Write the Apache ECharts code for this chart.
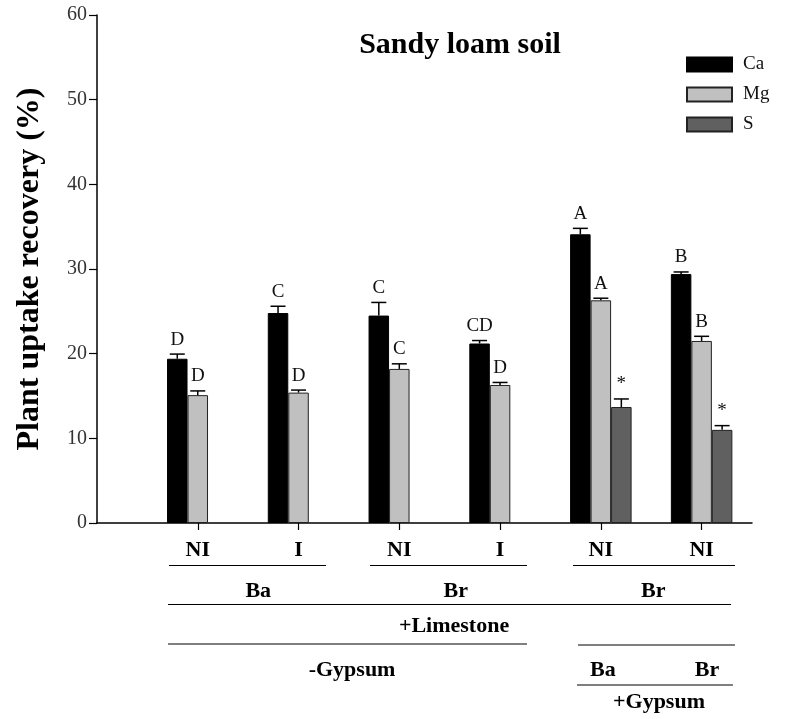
<!DOCTYPE html>
<html><head><meta charset="utf-8">
<script src="https://cdn.jsdelivr.net/npm/echarts@6/dist/echarts.min.js"></script>
<style>html,body{margin:0;padding:0;background:#fff}#c{width:794px;height:719px}</style>
</head><body><div id="c"></div>
<script>
// ---- data ----
const positions = [1, 2, 3, 4, 5, 6];
const tickLabels = ['NI', 'I', 'NI', 'I', 'NI', 'NI'];
const seriesNames = ['Ca', 'Mg', 'S'];
const caValues = [19.4, 24.8, 24.5, 21.2, 34.1, 29.4];
const caErrors = [0.55, 0.8, 1.55, 0.35, 0.7, 0.25];
const caLetters = ['D', 'C', 'C', 'CD', 'A', 'B'];
const mgValues = [15.1, 15.4, 18.2, 16.3, 26.3, 21.5];
const mgErrors = [0.5, 0.3, 0.6, 0.3, 0.25, 0.55];
const mgLetters = ['D', 'D', 'C', 'D', 'A', 'B'];
const sValues = [null, null, null, null, 13.7, 11.0];
const sErrors = [null, null, null, null, 0.95, 0.5];
const sLetters = ['', '', '', '', '*', '*'];
const yTicks = [0, 10, 20, 30, 40, 50, 60];

// hierarchical category annotations (x in axis units)
const tier2Labels = [{text: 'Ba', x: 1.60}, {text: 'Br', x: 3.56}, {text: 'Br', x: 5.52}];
const tier1Lines = [[0.714, 2.272], [2.709, 4.267], [4.724, 6.331]];
const tier2Line = [0.705, 6.292];
const tier3Labels = [{text: '+Limestone', x: 3.543}];
const tier3Lines = [[0.705, 4.267, 644], [4.773, 6.331, 645]];
const tier4Labels = [{text: '-Gypsum', x: 2.531}, {text: 'Ba', x: 5.02}, {text: 'Br', x: 6.053}];
const tier4Line = [4.763, 6.311];
const tier5Labels = [{text: '+Gypsum', x: 5.577}];

// ---- styling ----
const FONT = '"Liberation Serif", "Times New Roman", serif';
const BAR_W = 20.5;
const colors = ['#000000', '#c0c0c0', '#606060'];

const chart = echarts.init(document.getElementById('c'), null, {renderer: 'canvas'});

function pairs(vals) {
  const out = [];
  vals.forEach((v, i) => { if (v != null) out.push([positions[i], v]); });
  return out;
}
function errData(vals, errs) {
  const out = [];
  vals.forEach((v, i) => { if (v != null) out.push([positions[i], v, v + errs[i], i]); });
  return out;
}
const allVals = [caValues, mgValues, sValues];
const allErrs = [caErrors, mgErrors, sErrors];
const allLetters = [caLetters, mgLetters, sLetters];

function makeErr(k) {
  return {
    type: 'custom',
    name: seriesNames[k] + '_err',
    z: 5,
    silent: true,
    data: errData(allVals[k], allErrs[k]),
    renderItem: function (params, api) {
      const x = api.value(0), v = api.value(1), top = api.value(2), idx = api.value(3);
      const b = api.coord([x, v]);
      const c = api.coord([x, top]);
      const cx = b[0] + (k - 1) * BAR_W;
      const st = {stroke: '#000', lineWidth: 1.5};
      return {
        type: 'group',
        children: [
          {type: 'line', shape: {x1: cx, y1: b[1], x2: cx, y2: c[1]}, style: st},
          {type: 'line', shape: {x1: cx - 7.5, y1: c[1], x2: cx + 7.5, y2: c[1]}, style: st},
          {type: 'text', x: cx, y: c[1] - 14.5,
           style: {text: allLetters[k][idx], fill: '#111', font: '19px ' + FONT, align: 'center', verticalAlign: 'middle'}}
        ]
      };
    }
  };
}

const barSeries = seriesNames.map((n, k) => ({
  type: 'bar',
  name: n,
  data: pairs(allVals[k]),
  barWidth: BAR_W,
  barGap: '0%',
  itemStyle: {color: colors[k], borderColor: k === 0 ? '#000' : '#222', borderWidth: 1},
  emphasis: {disabled: true}
}));

chart.setOption({
  animation: false,
  backgroundColor: '#fff',
  title: {
    text: 'Sandy loam soil',
    left: 460, top: 30, textAlign: 'center', padding: 0,
    textStyle: {fontFamily: FONT, fontSize: 30, fontWeight: 'bold', color: '#000'}
  },
  legend: {
    data: seriesNames,
    orient: 'vertical',
    left: 686, top: 55, padding: 0,
    itemWidth: 45, itemHeight: 14, itemGap: 11,
    icon: 'rect',
    textStyle: {fontFamily: FONT, fontSize: 19, color: '#111', lineHeight: 14, padding: [0, 0, 0, 6]}
  },
  grid: {left: 97, top: 15, width: 655, height: 508, containLabel: false},
  xAxis: {
    type: 'value', min: 0, max: 6.5,
    splitLine: {show: false},
    axisLine: {show: true, lineStyle: {color: '#000', width: 1.5}},
    axisTick: {show: true, customValues: positions, length: 7, lineStyle: {color: '#000', width: 1.2}},
    axisLabel: {
      customValues: positions,
      formatter: v => tickLabels[positions.indexOf(v)],
      fontFamily: FONT, fontSize: 22, fontWeight: 'bold', color: '#000', margin: 16
    }
  },
  yAxis: {
    type: 'value', min: 0, max: 60, interval: 10,
    name: 'Plant uptake recovery (%)',
    nameLocation: 'middle', nameGap: 51,
    nameTextStyle: {fontFamily: FONT, fontSize: 32, fontWeight: 'bold', color: '#000'},
    splitLine: {show: false},
    axisLine: {show: true, lineStyle: {color: '#000', width: 1.5}},
    axisTick: {show: true, length: 8, lineStyle: {color: '#000', width: 1.2}},
    axisLabel: {fontFamily: FONT, fontSize: 20, color: '#333', margin: 10,
      formatter: v => (yTicks.indexOf(v) >= 0 ? String(v) : '')}
  },
  series: barSeries.concat([makeErr(0), makeErr(1), makeErr(2)])
});

// annotation graphics, positioned through the x axis scale
function px(x) { return chart.convertToPixel({xAxisIndex: 0}, x); }
const txtStyle = {fill: '#000', font: 'bold 22px ' + FONT, align: 'center', verticalAlign: 'middle'};
const lineStyle = {stroke: '#000', lineWidth: 1.2};
const g = [];
tier1Lines.forEach(l => g.push({type: 'line', shape: {x1: px(l[0]), y1: 565.5, x2: px(l[1]), y2: 565.5}, style: lineStyle}));
tier2Labels.forEach(t => g.push({type: 'text', x: px(t.x), y: 591, style: Object.assign({text: t.text}, txtStyle)}));
g.push({type: 'line', shape: {x1: px(tier2Line[0]), y1: 604.5, x2: px(tier2Line[1]), y2: 604.5}, style: lineStyle});
tier3Labels.forEach(t => g.push({type: 'text', x: px(t.x), y: 626, style: Object.assign({text: t.text}, txtStyle)}));
tier3Lines.forEach(l => g.push({type: 'line', shape: {x1: px(l[0]), y1: l[2], x2: px(l[1]), y2: l[2]}, style: lineStyle}));
tier4Labels.forEach(t => g.push({type: 'text', x: px(t.x), y: 670, style: Object.assign({text: t.text}, txtStyle)}));
g.push({type: 'line', shape: {x1: px(tier4Line[0]), y1: 685, x2: px(tier4Line[1]), y2: 685}, style: lineStyle});
tier5Labels.forEach(t => g.push({type: 'text', x: px(t.x), y: 702, style: Object.assign({text: t.text}, txtStyle)}));
chart.setOption({graphic: {elements: g}});
</script>
</body></html>
